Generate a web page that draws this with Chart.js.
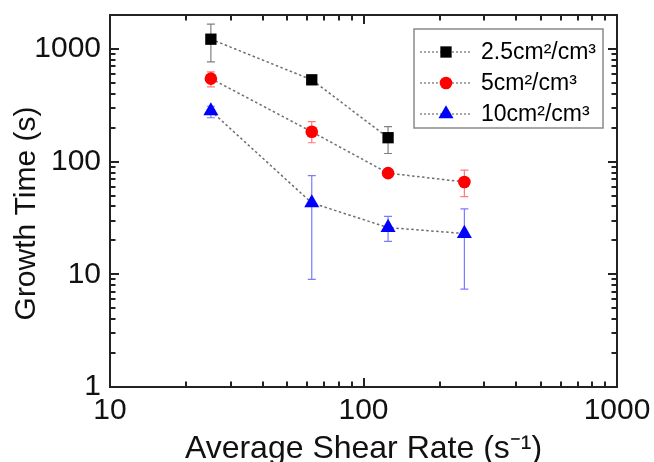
<!DOCTYPE html>
<html>
<head>
<meta charset="utf-8">
<script src="https://cdn.jsdelivr.net/npm/chart.js@4"></script>
<style>
html, body { margin: 0; padding: 0; background: #fff; }
</style>
</head>
<body>
<canvas id="myChart" width="654" height="462"></canvas>
<script>
// values (log-log plot)
var seriesNames = ['2.5cm²/cm³', '5cm²/cm³', '10cm²/cm³'];

var rateA = [25, 62.5, 125];
var timeA = [1220, 532, 163];
var lowA  = [767, null, 118];
var highA = [1660, null, 204];

var rateB = [25, 62.5, 125, 250];
var timeB = [545, 184, 79, 66];
var lowB  = [461, 147, null, 49];
var highB = [625, 226, null, 84];

var rateC = [25, 62.5, 125, 250];
var timeC = [282, 43, 26, 23];
var lowC  = [245, 9, 19.6, 7.4];
var highC = [310, 75, 32.6, 38];

var xTicks = [10, 100, 1000];
var yTicks = [1, 10, 100, 1000];
var xMin = 10, xMax = 1000, yMin = 1, yMax = 2000;

Chart.defaults.font.family = "'Liberation Sans', Arial, sans-serif";
Chart.defaults.color = '#111';

function points(xs, ys) {
    var out = [];
    for (var i = 0; i < xs.length; i++) {
        out.push({ x: xs[i], y: ys[i] });
    }
    return out;
}

function marker(c, style, r, x, y, color) {
    c.save();
    c.fillStyle = color;
    c.beginPath();
    if (style === 'rect') {
        var s = Math.SQRT1_2 * r;
        c.rect(x - s, y - s, 2 * s, 2 * s);
    } else if (style === 'triangle') {
        c.moveTo(x, y - r);
        c.lineTo(x + r * 0.866, y + r * 0.5);
        c.lineTo(x - r * 0.866, y + r * 0.5);
        c.closePath();
    } else {
        c.arc(x, y, r, 0, Math.PI * 2);
    }
    c.fill();
    c.restore();
}

var errLow = [lowA, lowB, lowC];
var errHigh = [highA, highB, highC];
var errColor = ['#808080', '#ff7b7b', '#7b7bff'];

// error bars under the markers
var errorBars = {
    id: 'errorBars',
    beforeDatasetsDraw: function (chart) {
        var c = chart.ctx, xs = chart.scales.x, ys = chart.scales.y;
        c.save();
        c.lineWidth = 1.2;
        chart.data.datasets.forEach(function (ds, i) {
            c.strokeStyle = errColor[i];
            ds.data.forEach(function (p, j) {
                if (errLow[i][j] == null) return;
                var px = xs.getPixelForValue(p.x);
                var y1 = ys.getPixelForValue(errLow[i][j]);
                var y2 = ys.getPixelForValue(errHigh[i][j]);
                c.beginPath();
                c.moveTo(px, y1); c.lineTo(px, y2);
                c.moveTo(px - 4, y1); c.lineTo(px + 4, y1);
                c.moveTo(px - 4, y2); c.lineTo(px + 4, y2);
                c.stroke();
            });
        });
        c.restore();
    }
};

// closed frame with inward major/minor ticks on all sides
var frameTicks = {
    id: 'frameTicks',
    afterDraw: function (chart) {
        var c = chart.ctx, a = chart.chartArea;
        var xs = chart.scales.x, ys = chart.scales.y;
        c.save();
        c.strokeStyle = '#222';
        c.lineWidth = 2;
        c.strokeRect(a.left, a.top, a.right - a.left, a.bottom - a.top);
        c.beginPath();
        yTicks.forEach(function (d) {
            for (var m = 1; m < 10; m++) {
                var v = m * d;
                var len = (m === 1) ? 9 : 5.5;
                if (v >= xMin && v <= xMax) {
                    var px = Math.round(xs.getPixelForValue(v));
                    c.moveTo(px, a.bottom); c.lineTo(px, a.bottom - len);
                    c.moveTo(px, a.top); c.lineTo(px, a.top + len);
                }
                if (v >= yMin && v <= yMax) {
                    var py = Math.round(ys.getPixelForValue(v));
                    c.moveTo(a.left, py); c.lineTo(a.left + len, py);
                    c.moveTo(a.right, py); c.lineTo(a.right - len, py);
                }
            }
        });
        c.stroke();
        c.restore();
    }
};

// boxed legend with line + marker samples
var boxLegend = {
    id: 'boxLegend',
    afterDraw: function (chart) {
        var c = chart.ctx, a = chart.chartArea;
        var bx = a.right - 203, by = a.top + 14;
        c.save();
        c.strokeStyle = '#8a8a8a';
        c.lineWidth = 1.5;
        c.strokeRect(bx, by, 189, 99);
        c.font = "23px 'Liberation Sans', Arial, sans-serif";
        c.textBaseline = 'middle';
        c.textAlign = 'left';
        c.fillStyle = '#000';
        chart.data.datasets.forEach(function (ds, i) {
            var ry = by + 23 + i * 31;
            c.save();
            c.strokeStyle = '#8a8a8a';
            c.lineWidth = 1.3;
            c.setLineDash([2, 2]);
            c.beginPath();
            c.moveTo(bx + 6, ry); c.lineTo(bx + 58, ry);
            c.stroke();
            c.restore();
            marker(c, ds.pointStyle, ds.pointRadius, bx + 32, ry, ds.pointBackgroundColor);
            c.fillText(ds.label, bx + 67, ry + 1);
        });
        c.restore();
    }
};

var lineStyle = {
    showLine: true,
    borderColor: '#6e6e6e',
    borderWidth: 1.5,
    borderDash: [2.5, 2.5],
    pointBorderWidth: 0
};

var chart = new Chart(document.getElementById('myChart').getContext('2d'), {
    type: 'scatter',
    data: {
        datasets: [
            Object.assign({
                label: seriesNames[0],
                data: points(rateA, timeA),
                pointStyle: 'rect',
                pointRadius: 8,
                pointBackgroundColor: '#000000'
            }, lineStyle),
            Object.assign({
                label: seriesNames[1],
                data: points(rateB, timeB),
                pointStyle: 'circle',
                pointRadius: 6.3,
                pointBackgroundColor: '#ff0000'
            }, lineStyle),
            Object.assign({
                label: seriesNames[2],
                data: points(rateC, timeC),
                pointStyle: 'triangle',
                pointRadius: 8.7,
                pointBackgroundColor: '#0000ff'
            }, lineStyle)
        ]
    },
    options: {
        responsive: false,
        animation: false,
        devicePixelRatio: 1,
        layout: { padding: { top: 15, right: 37, left: 0, bottom: 0 } },
        plugins: {
            legend: { display: false },
            tooltip: { enabled: false }
        },
        scales: {
            x: {
                type: 'logarithmic',
                min: xMin,
                max: xMax,
                afterBuildTicks: function (s) {
                    s.ticks = xTicks.map(function (v) { return { value: v }; });
                },
                afterFit: function (s) {
                    s.height = 75;
                    s.paddingLeft = 0;
                    s.paddingRight = 0;
                },
                ticks: {
                    font: { size: 30 },
                    color: '#111',
                    padding: 6,
                    maxRotation: 0,
                    autoSkip: false,
                    callback: function (v) { return String(v); }
                },
                grid: { display: false, drawTicks: false },
                border: { display: false },
                title: {
                    display: true,
                    text: 'Average Shear Rate (s⁻¹)',
                    color: '#111',
                    font: { size: 32, lineHeight: 1 },
                    padding: { top: 0, bottom: -3 }
                }
            },
            y: {
                type: 'logarithmic',
                min: yMin,
                max: yMax,
                afterBuildTicks: function (s) {
                    s.ticks = yTicks.map(function (v) { return { value: v }; });
                },
                afterFit: function (s) {
                    s.width = 110;
                    s.paddingTop = 0;
                    s.paddingBottom = 0;
                },
                ticks: {
                    font: { size: 30 },
                    color: '#111',
                    padding: 9,
                    autoSkip: false,
                    callback: function (v) { return String(v); }
                },
                grid: { display: false, drawTicks: false },
                border: { display: false },
                title: {
                    display: true,
                    text: 'Growth Time (s)   ',
                    color: '#111',
                    font: { size: 30, lineHeight: 1 },
                    padding: { top: 12, bottom: 0 }
                }
            }
        }
    },
    plugins: [errorBars, frameTicks, boxLegend]
});
</script>
</body>
</html>
